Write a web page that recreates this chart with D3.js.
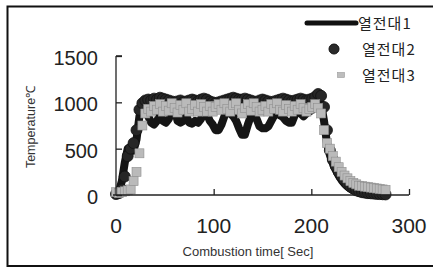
<!DOCTYPE html>
<html><head><meta charset="utf-8">
<script src="https://cdn.jsdelivr.net/npm/d3@7"></script>
<style>html,body{margin:0;padding:0;background:#fff;}svg{display:block;}</style>
</head><body>
<svg id="chart" width="433" height="268"></svg>
<script>
const seriesNames = ["열전대1", "열전대2", "열전대3"];
const times = [0,3,6,9,12,15,18,21,24,27,30,33,36,39,42,45,48,51,54,57,60,63,66,69,72,75,78,81,84,87,90,93,96,99,102,105,108,111,114,117,120,123,126,129,132,135,138,141,144,147,150,153,156,159,162,165,168,171,174,177,180,183,186,189,192,195,198,201,204,207,210,213,216,219,222,225,228,231,234,237,240,243,246,249,252,255,258,261,264,267,270,273,276];
const tc1 = [20,40,150,350,500,520,480,600,850,950,950,850,780,760,800,860,800,780,820,900,940,800,780,800,850,780,770,800,780,820,900,880,800,760,700,700,760,850,900,880,850,800,720,650,650,760,850,880,820,740,720,720,740,800,860,880,860,840,800,780,780,860,900,880,850,880,900,920,980,1040,980,800,560,430,340,270,210,160,120,90,70,50,35,25,20,15,12,10,10,8,8,6,5];
const tc2 = [10,20,60,200,420,500,560,700,920,990,1020,1030,1020,1040,1030,1050,1040,1030,1020,1010,1000,1010,1020,1000,1010,1020,1030,1020,1010,1030,1040,1030,1010,1000,990,1000,1010,1020,1030,1040,1050,1040,1030,1030,1040,1030,1020,1010,1000,1020,1030,1020,1010,1000,1010,1020,1030,1040,1030,1020,1010,1020,1030,1040,1030,1020,1030,1040,1060,1090,1070,950,700,480,380,310,250,200,160,120,90,70,50,40,30,25,20,18,15,12,10,8,6];
const tc3 = [30,20,30,40,50,60,150,250,450,750,880,930,900,960,920,980,900,960,910,990,940,890,970,920,990,900,930,970,900,980,950,900,960,900,950,980,920,990,930,900,970,990,920,880,940,980,910,990,950,900,920,960,900,980,930,990,920,900,970,930,900,960,920,980,940,900,930,950,980,940,880,700,560,500,420,360,300,250,210,180,150,130,115,100,95,90,85,80,75,70,65,60,55];
const xTicks = [0,100,200,300];
const yTicks = [0,500,1000,1500];

const svg = d3.select("#chart");
const x = d3.scaleLinear().domain([0,300]).range([116,409]);
const y = d3.scaleLinear().domain([0,1500]).range([195,56]);
const font = "'Liberation Sans', Arial, Helvetica, sans-serif";

// frame
svg.append("rect").attr("x",7.5).attr("y",6.5).attr("width",440).attr("height",259.5)
  .attr("fill","none").attr("stroke","#111").attr("stroke-width",2);

const data1 = times.map((t,i)=>({t, v: tc1[i]}));
const data2 = times.map((t,i)=>({t, v: tc2[i]}));
const data3 = times.map((t,i)=>({t, v: tc3[i]}));

// series 1: thick black line
svg.append("path").datum(data1)
  .attr("d", d3.line().x(d=>x(d.t)).y(d=>y(d.v)))
  .attr("fill","none").attr("stroke","#151515").attr("stroke-width",8)
  .attr("stroke-linejoin","round").attr("stroke-linecap","round");

// series 2: dark circles
svg.append("g").selectAll("circle").data(data2).join("circle")
  .attr("cx", d=>x(d.t)).attr("cy", d=>y(d.v)).attr("r",5.5)
  .attr("fill","#262626").attr("stroke","#111").attr("stroke-width",0.8);

// series 3: grey squares
const sq = 9;
svg.append("g").selectAll("rect").data(data3).join("rect")
  .attr("x", d=>x(d.t)-sq/2).attr("y", d=>y(d.v)-sq/2).attr("width",sq).attr("height",sq)
  .attr("fill","#bababa").attr("stroke","#8f8f8f").attr("stroke-width",0.6);

// axes
const yAxis = d3.axisRight(y).tickValues(yTicks).tickSize(6).tickFormat("");
const gy = svg.append("g").attr("transform",`translate(${x(0)},0)`).call(yAxis);
const xAxis = d3.axisTop(x).tickValues(xTicks.slice(1)).tickSize(6).tickFormat("");
const gx = svg.append("g").attr("transform",`translate(0,${y(0)})`).call(xAxis);
[gy,gx].forEach(g=>{
  g.select(".domain").attr("stroke","#222").attr("stroke-width",1.3);
  g.selectAll(".tick line").attr("stroke","#222").attr("stroke-width",1.3);
});
gy.select(".domain").attr("d", `M0,${y(1500)}H6M0,${y(1500)}V${y(0)}`);
gx.select(".domain").attr("d", `M${x(0)-3},0H${x(300)}`);

// tick labels
svg.append("g").selectAll("text").data(yTicks).join("text")
  .attr("x",98).attr("y",d=>y(d)+9).attr("text-anchor","end")
  .attr("font-family",font).attr("font-size",20).attr("fill","#222").text(d=>d);
svg.append("g").selectAll("text").data(xTicks).join("text")
  .attr("x",d=>x(d)).attr("y",233).attr("text-anchor","middle")
  .attr("font-family",font).attr("font-size",21).attr("fill","#222").text(d=>d);

// axis titles
svg.append("text").attr("x",248).attr("y",256).attr("text-anchor","middle")
  .attr("font-family",font).attr("font-size",13).attr("fill","#333").text("Combustion time[ Sec]");
svg.append("text").attr("transform","translate(35,127) rotate(-90)").attr("text-anchor","middle")
  .attr("font-family",font).attr("font-size",12.5).attr("fill","#333").text("Temperature℃");

// legend
const kfont = "'Noto Sans CJK KR', sans-serif";
svg.append("line").attr("x1",307).attr("x2",356).attr("y1",23).attr("y2",23)
  .attr("stroke","#111").attr("stroke-width",5).attr("stroke-linecap","round");
svg.append("circle").attr("cx",334).attr("cy",49).attr("r",5).attr("fill","#2a2a2a").attr("stroke","#111");
svg.append("rect").attr("x",337.5).attr("y",72.5).attr("width",7).attr("height",5).attr("fill","#bdbdbd").attr("stroke","#9a9a9a").attr("stroke-width",0.6);
const legX = [358,362,362], legY = [23,49,75];
seriesNames.forEach((n,i)=>{
  svg.append("text").attr("x",legX[i]).attr("y",legY[i]+5.5)
    .attr("font-family",kfont).attr("font-size",15).attr("letter-spacing",1).attr("fill","#222").text(n);
});
</script>
</body></html>
